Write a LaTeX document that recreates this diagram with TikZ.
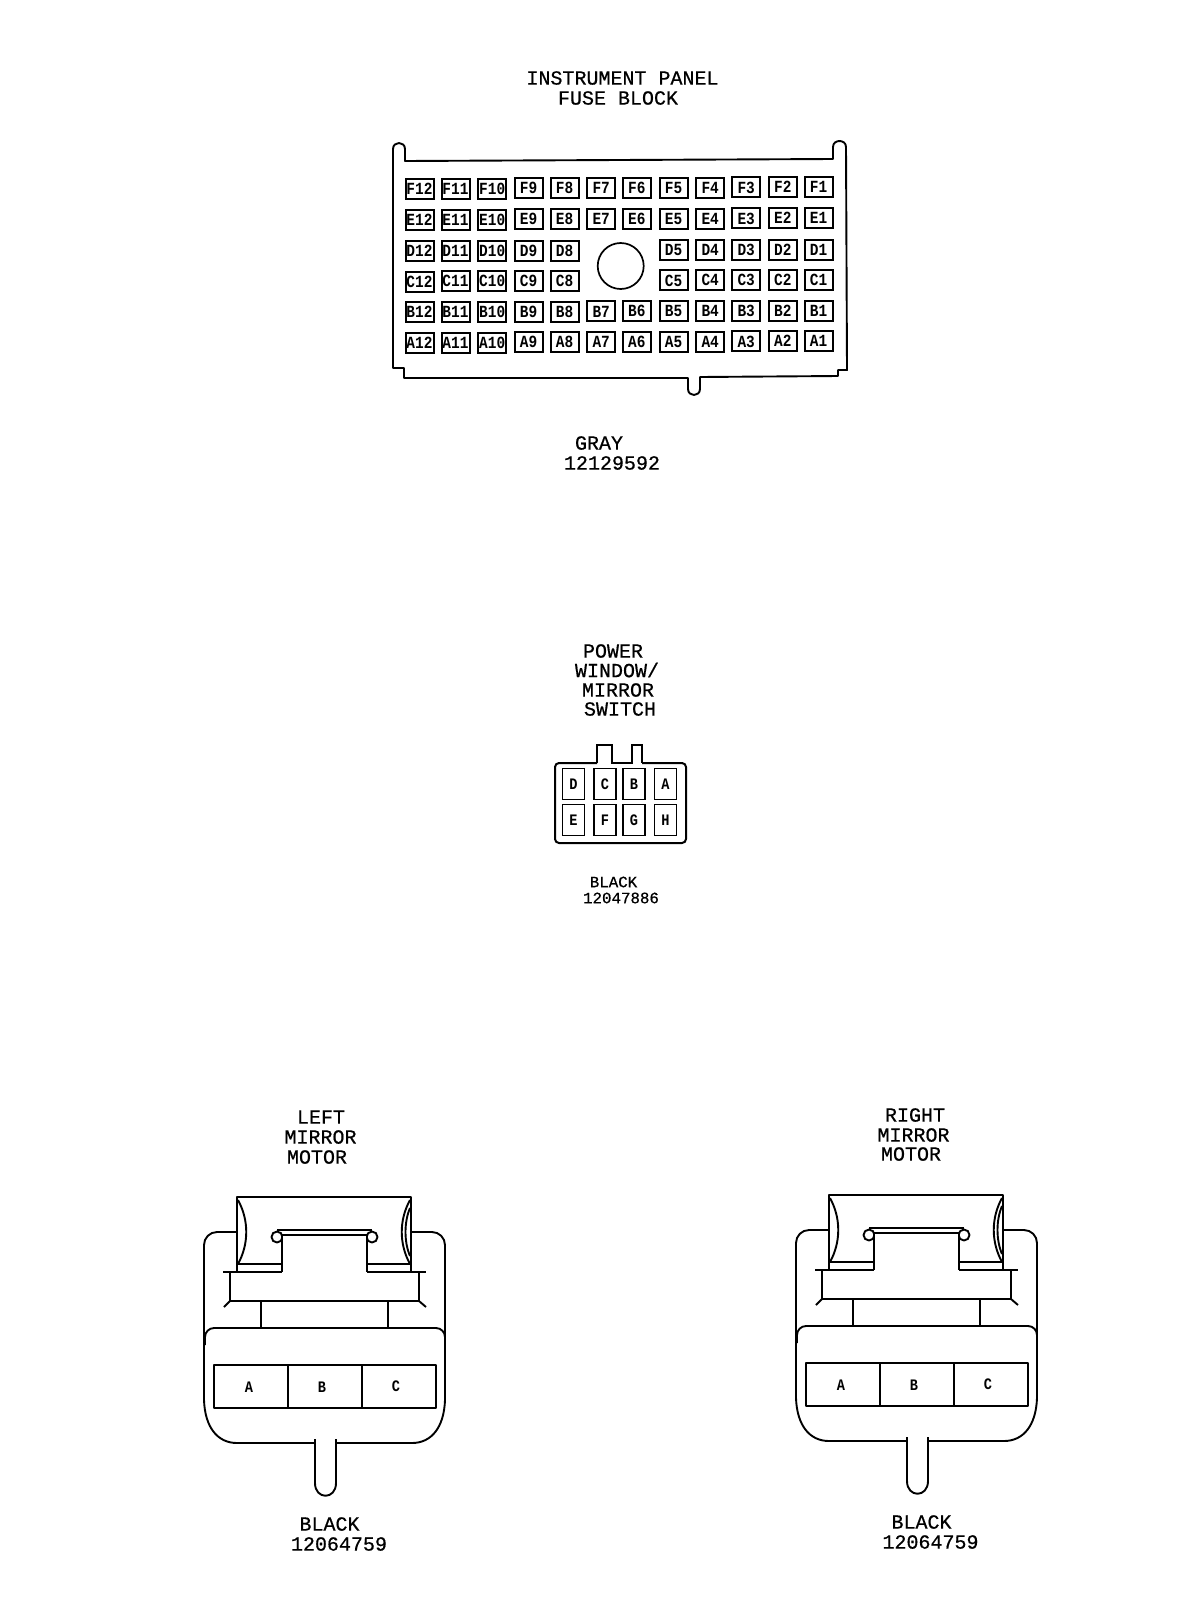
\documentclass[tikz,border=0pt]{standalone}
\usepackage{fontspec}
\setmainfont{Liberation Mono}[FakeBold=0.6]
\newfontfamily\pinfont[FakeStretch=0.85]{Liberation Mono}
\tikzset{
    heading/.style={font=\fontsize{20}{20}\selectfont, inner sep=0pt},
    smallheading/.style={font=\fontsize{15.8}{16}\selectfont, inner sep=0pt},
    fuse/.style={draw, line width=2pt, minimum width=28pt, minimum height=20pt, inner sep=0pt, font=\pinfont\bfseries\fontsize{17}{17}\selectfont},
    pin/.style={draw, line width=1.9pt, minimum width=22pt, minimum height=31pt, inner sep=0pt, font=\pinfont\bfseries\fontsize{16}{16}\selectfont},
    cavity/.style={inner sep=0pt, font=\pinfont\bfseries\fontsize{16}{16}\selectfont},
    housing/.style={line width=1.9pt, line join=round},
    mirrormotor/.pic={
        \draw[housing] (237,1272) -- (237,1197) -- (411,1197) -- (411,1272);
        % outer shell with the key at the bottom
        \draw[housing, rounded corners=13pt] (237,1232) -- (204,1232) -- (204,1340);
        \draw[housing, rounded corners=13pt] (411,1232) -- (445,1232) -- (445,1340);
        \draw[housing] (204,1320) -- (204,1400) .. controls (205,1428) and (218,1443) .. (237,1443) -- (315,1443);
        \draw[housing] (445,1320) -- (445,1400) .. controls (444,1428) and (431,1443) .. (412,1443) -- (336,1443);
        \draw[housing] (315,1439) -- (315,1483) .. controls (315,1500) and (336,1500) .. (336,1483) -- (336,1439);
        % latch
        \draw[housing] (277,1230) -- (372,1230);
        \draw[housing, fill=white] (277,1237) circle (5.5pt);
        \draw[housing, fill=white] (372,1237) circle (5.5pt);
        \fill[white] (282,1236) rectangle (367,1272);
        \draw[housing] (282,1272) -- (282,1235) -- (367,1235) -- (367,1272);
        \draw[housing] (238,1264) -- (282,1264);
        \draw[housing] (367,1264) -- (410,1264);
        \draw[housing] (238,1200) .. controls (249,1220) and (249,1244) .. (238,1264);
        \draw[housing] (410,1200) .. controls (399,1220) and (399,1244) .. (410,1264);
        \draw[housing] (410,1208) .. controls (404,1222) and (404,1242) .. (410,1256);
        % flange and neck
        \draw[housing] (223,1272) -- (282,1272);
        \draw[housing] (367,1272) -- (426,1272);
        \draw[housing] (230,1272) -- (230,1301) -- (419,1301) -- (419,1272);
        \draw[housing] (230,1301) -- (224,1307);
        \draw[housing] (419,1301) -- (426,1307);
        \draw[housing] (261,1301) -- (261,1328);
        \draw[housing] (388,1301) -- (388,1328);
        \draw[housing, rounded corners=9pt] (205,1345) -- (205,1328) -- (445,1328) -- (445,1345);
        % cavities
        \draw[housing] (214,1365) rectangle (436,1408);
        \draw[housing] (288,1365) -- (288,1408);
        \draw[housing] (362,1365) -- (362,1408);
        \node[cavity] (A) at (249,1387) {A};
        \node[cavity] (B) at (322,1387) {B};
        \node[cavity] (C) at (396,1386) {C};
    }
}
\begin{document}
\begin{tikzpicture}[x=1pt, y=-1pt]
    \useasboundingbox (0,0) rectangle (1184,1606);
    \fill[white] (0,0) rectangle (1184,1606);

    % instrument panel fuse block
    \node[heading] (fusetitlea) at (622.5,78) {INSTRUMENT PANEL};
    \node[heading] (fusetitleb) at (618,98) {FUSE BLOCK};
    \draw[line width=1.9pt, line join=round] (393,368) -- (393,149) .. controls (393,141) and (405,141) .. (405,149) -- (405,161)
        -- (833,159) -- (833,147) .. controls (833,139) and (846,139) .. (846,147) -- (847,370)
        -- (838,370) -- (838,376) -- (700,377) -- (700,389) .. controls (700,397) and (688,397) .. (688,389) -- (688,378)
        -- (404,378) -- (404,368) -- cycle;
    \foreach \rowname/\rowy in {F/178.3, E/209.3, B/301.7, A/332.3}{
        \foreach \n/\colx in {12/405, 11/441, 10/477.7, 9/514, 8/550, 7/586.7, 6/622.3, 5/659, 4/695.7, 3/731.7, 2/768.3, 1/804}{
            \node[fuse] (\rowname\n) at ({\colx+14.5},{\rowy+10.5-0.15*(12-\n)}) {\rowname\n};
        }
    }
    \foreach \rowname/\rowy in {D/240.7, C/271}{
        \foreach \n/\colx in {12/405, 11/441, 10/477.7, 9/514, 8/550, 5/659, 4/695.7, 3/731.7, 2/768.3, 1/804}{
            \node[fuse] (\rowname\n) at ({\colx+14.5},{\rowy+10.5-0.15*(12-\n)}) {\rowname\n};
        }
    }
    \draw[line width=1.7pt] (620.7,266) circle (23pt);
    \node[heading] (fusecolor) at (599,443) {GRAY};
    \node[heading] (fusepart) at (612,463) {12129592};

    % power window / mirror switch
    \node[heading] (switcha) at (613,651) {POWER};
    \node[heading] (switchb) at (617,670) {WINDOW/};
    \node[heading] (switchc) at (618,690) {MIRROR};
    \node[heading] (switchd) at (620,709) {SWITCH};
    \draw[line width=2pt, rounded corners=4pt] (597,763) -- (555,763) -- (555,843) -- (686,843) -- (686,763) -- (642,763);
    \draw[line width=2pt] (597,763) -- (597,745) -- (612,745) -- (612,763) -- (632,763) -- (632,745) -- (642,745) -- (642,763);
    \foreach \pinname/\pinx/\piny in {D/573.5/784, C/605/784, B/634/784, A/665.5/784, E/573.5/820, F/605/820, G/634/820, H/665.5/820}{
        \node[pin] (pin\pinname) at (\pinx,\piny) {\pinname};
    }
    \node[smallheading] (switchcolor) at (613.5,882) {BLACK};
    \node[smallheading] (switchpart) at (621,898) {12047886};

    % left mirror motor
    \node[heading] (lefta) at (321,1117) {LEFT};
    \node[heading] (leftb) at (320.5,1137) {MIRROR};
    \node[heading] (leftc) at (317,1157) {MOTOR};
    \pic (lm) at (0,0) {mirrormotor};
    \node[heading] (leftcolor) at (329.5,1524) {BLACK};
    \node[heading] (leftpart) at (339,1544) {12064759};

    % right mirror motor
    \node[heading] (righta) at (915,1115) {RIGHT};
    \node[heading] (rightb) at (913.5,1135) {MIRROR};
    \node[heading] (rightc) at (911,1154) {MOTOR};
    \pic (rm) at (592,-2) {mirrormotor};
    \node[heading] (rightcolor) at (921.5,1522) {BLACK};
    \node[heading] (rightpart) at (930.5,1542) {12064759};
\end{tikzpicture}
\end{document}
